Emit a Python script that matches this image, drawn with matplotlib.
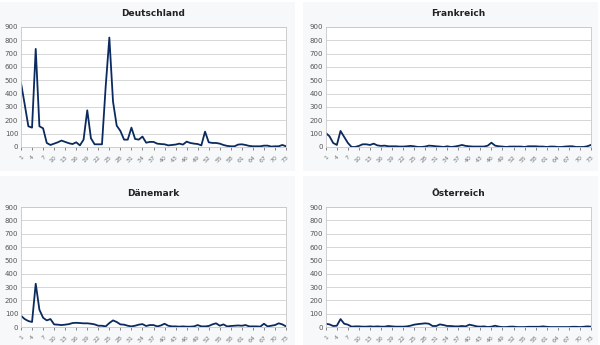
import matplotlib.pyplot as plt
from matplotlib.patches import Rectangle

# Werte je Land, Index 1..73
deutschland = [480, 320, 155, 145, 735, 155, 140, 30, 15, 25, 35, 48, 38, 28, 22, 35, 12, 55, 275, 65,
               20, 20, 20, 450, 820, 340, 160, 120, 55, 55, 145, 60, 55, 78, 32, 38, 38, 25, 22, 20,
               12, 15, 18, 25, 18, 40, 30, 25, 22, 12, 115, 35, 30, 30, 25, 15, 8, 5, 5, 18,
               20, 15, 8, 5, 5, 5, 10, 10, 3, 5, 5, 15, 5]
frankreich = [105, 80, 30, 15, 120, 75, 30, 0, 0, 8, 20, 20, 15, 25, 12, 8, 10, 5, 5, 5,
              3, 3, 5, 8, 5, 0, 0, 3, 10, 8, 5, 3, 0, 5, 0, 3, 8, 15, 8, 5,
              3, 3, 3, 3, 10, 32, 10, 5, 3, 0, 3, 3, 3, 3, 0, 5, 5, 5, 3, 3,
              0, 3, 3, 0, 0, 3, 5, 5, 0, 0, 0, 5, 15]
daenemark = [85, 60, 45, 38, 325, 130, 70, 50, 60, 20, 18, 15, 18, 22, 30, 32, 30, 28, 28, 25,
             20, 10, 10, 5, 30, 50, 38, 20, 18, 10, 5, 10, 18, 22, 8, 15, 15, 5, 12, 25,
             10, 5, 5, 3, 5, 3, 3, 5, 15, 5, 5, 8, 20, 28, 10, 20, 5, 8, 10, 12,
             10, 15, 5, 5, 5, 3, 25, 5, 10, 15, 28, 20, 5]
oesterreich = [25, 20, 8, 10, 60, 25, 18, 3, 5, 5, 3, 3, 5, 3, 5, 3, 3, 8, 5, 3,
               3, 3, 5, 10, 18, 22, 25, 28, 25, 8, 8, 20, 15, 8, 8, 5, 5, 8, 5, 18,
               12, 5, 3, 5, 0, 3, 10, 3, 0, 0, 3, 3, 0, 0, 0, 2, 2, 2, 2, 5,
               2, 0, 0, 0, 0, 0, 0, 2, 2, 0, 2, 5, 3]

tage = list(range(1, 74))
laender = ["Deutschland", "Frankreich", "Dänemark", "Österreich"]
reihen = [deutschland, frankreich, daenemark, oesterreich]

fig = plt.figure(figsize=(6, 3.45), dpi=100)
fig.patch.set_facecolor("white")

# Hintergrund der vier Diagrammfelder
for x0, y0 in [(0.0, 0.505), (0.505, 0.505), (0.0, 0.0), (0.505, 0.0)]:
    fig.patches.append(Rectangle((x0, y0), 0.492, 0.49, transform=fig.transFigure,
                                 facecolor="#f7f8fa", edgecolor="none", zorder=-10))

positionen = [(0.035, 0.574), (0.543, 0.574), (0.035, 0.052), (0.543, 0.052)]

for (left, bottom), name, werte in zip(positionen, laender, reihen):
    ax = fig.add_axes([left, bottom, 0.4417, 0.348])
    ax.set_zorder(5)
    ax.set_facecolor("white")
    ax.plot(tage, werte, color="#0b2a5e", linewidth=1.3)
    ax.set_xlim(1, 73)
    ax.set_ylim(0, 900)
    ax.set_yticks(range(0, 901, 100))
    ax.set_xticks(range(1, 74, 3))
    ax.set_xticklabels([str(t) for t in range(1, 74, 3)], rotation=45, ha="right",
                       rotation_mode="anchor")
    ax.tick_params(axis="both", labelsize=5, colors="#555555", length=2, width=0.5)
    ax.tick_params(axis="x", labelsize=4.5, labelcolor="#777777")
    ax.tick_params(axis="y", length=0, pad=2)
    ax.grid(axis="y", color="#d6d6d6", linewidth=0.7)
    ax.set_axisbelow(True)
    for s in ax.spines.values():
        s.set_color("#c8c8c8")
        s.set_linewidth(0.6)
    ax.set_title(name, fontsize=6.5, fontweight="bold", color="#222222", pad=8)

fig.savefig("out.png", dpi=100)
